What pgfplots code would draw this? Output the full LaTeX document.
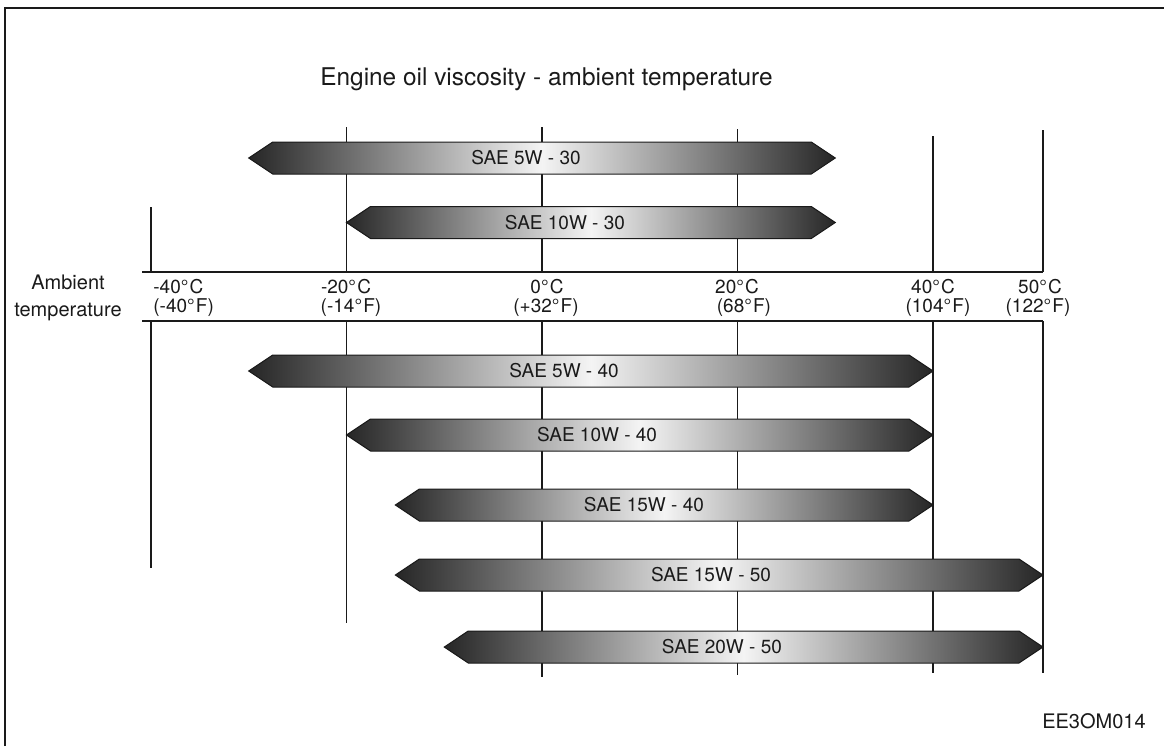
\documentclass[border=0pt]{standalone}
\usepackage{fontspec}
\setmainfont{TeX Gyre Heros}
\usepackage{pgfplots}
\pgfplotsset{compat=1.18}
\definecolor{bardark}{HTML}{262626}
\definecolor{barlight}{HTML}{F4F4F4}
\definecolor{ink}{HTML}{1A1A1A}
\begin{document}
\begin{tikzpicture}[
  lbl/.style={font=\fontsize{9.5}{10}\selectfont, text=ink, inner sep=0pt},
  guide/.style={ink, line width=0.6pt},
  bar/.style={draw=ink, line width=0.5pt, left color=bardark, right color=bardark, middle color=barlight},
]
\begin{axis}[name=ax, scale only axis, width=582pt, height=373pt,
  xmin=-55.448, xmax=61.006, ymin=0, ymax=746, y dir=reverse,
  hide axis, clip=false, no markers,
  x coord trafo/.code={\pgfmathparse{ifthenelse(#1>40,40+1.125*(#1-40),#1)}},
]
% frame (left and top edges)
\draw[ink, line width=1pt] (axis cs:-54.94,746) |- (axis cs:61.006,8);
% temperature guide lines (top part / bottom part)
\addplot[guide] coordinates {(-40,207) (-40,272)};
\addplot[guide] coordinates {(-40,321) (-40,568)};
\addplot[guide] coordinates {(-20,127) (-20,272)};
\addplot[guide] coordinates {(-20,321) (-20,623)};
\addplot[guide] coordinates {(0,127) (0,272)};
\addplot[guide] coordinates {(0,321) (0,677)};
\addplot[guide] coordinates {(20,129) (20,272)};
\addplot[guide] coordinates {(20,321) (20,675)};
\addplot[guide] coordinates {(40,136) (40,272)};
\addplot[guide] coordinates {(40,321) (40,673)};
\addplot[guide] coordinates {(50,130) (50,272)};
\addplot[guide] coordinates {(50,321) (50,673)};
\addplot[guide] coordinates {(-40.92,272) (50,272)};
\addplot[guide] coordinates {(-40.92,321) (50,321)};
% viscosity bars: tip (lo), shoulders, tip (hi)
\addplot[bar] coordinates {(-30,158) (-27.545,142) (27.545,142) (30,158) (27.545,174) (-27.545,174)} -- cycle;
\addplot[bar] coordinates {(-20,222.5) (-17.545,206.5) (27.545,206.5) (30,222.5) (27.545,238.5) (-17.545,238.5)} -- cycle;
\addplot[bar] coordinates {(-30,371) (-27.545,355) (37.545,355) (40,371) (37.545,387) (-27.545,387)} -- cycle;
\addplot[bar] coordinates {(-20,435) (-17.545,419) (37.545,419) (40,435) (37.545,451) (-17.545,451)} -- cycle;
\addplot[bar] coordinates {(-15,505) (-12.545,489) (37.545,489) (40,505) (37.545,521) (-12.545,521)} -- cycle;
\addplot[bar] coordinates {(-15,575) (-12.545,559) (47.818,559) (50,575) (47.818,591) (-12.545,591)} -- cycle;
\addplot[bar] coordinates {(-10,647) (-7.545,631) (47.818,631) (50,647) (47.818,663) (-7.545,663)} -- cycle;
% bar labels
\node[lbl] at (axis cs:-1.64,158) {SAE 5W - 30};
\node[lbl] at (axis cs:2.35,222.5) {SAE 10W - 30};
\node[lbl] at (axis cs:2.25,371) {SAE 5W - 40};
\node[lbl] at (axis cs:5.63,435) {SAE 10W - 40};
\node[lbl] at (axis cs:10.43,505) {SAE 15W - 40};
\node[lbl] at (axis cs:17.29,575) {SAE 15W - 50};
\node[lbl] at (axis cs:18.41,647) {SAE 20W - 50};
% title and side labels
\node[lbl, font=\fontsize{12.2}{13}\selectfont, anchor=base] at (axis cs:0.46,85) {Engine oil viscosity - ambient temperature};
\node[lbl, font=\fontsize{10}{11}\selectfont, anchor=base] at (axis cs:-48.49,289) {Ambient};
\node[lbl, font=\fontsize{10}{11}\selectfont, anchor=base] at (axis cs:-48.49,316) {temperature};
\node[lbl, font=\fontsize{10}{11}\selectfont, anchor=base east] at (axis cs:59.37,728) {EE3OM014};
% temperature labels
\node[lbl, anchor=base west] at (axis cs:-39.8,293) {-40°\kern0.6pt C};
\node[lbl, anchor=base west] at (axis cs:-39.8,312) {(-40°\kern0.6pt F)};
\node[lbl, anchor=base] at (axis cs:-20.05,293) {-20°\kern0.6pt C};
\node[lbl, anchor=base] at (axis cs:-19.54,312) {(-14°\kern0.6pt F)};
\node[lbl, anchor=base] at (axis cs:0.51,293) {0°\kern0.6pt C};
\node[lbl, anchor=base] at (axis cs:0.41,312) {(+32°\kern0.6pt F)};
\node[lbl, anchor=base] at (axis cs:19.95,293) {20°\kern0.6pt C};
\node[lbl, anchor=base] at (axis cs:20.66,312) {(68°\kern0.6pt F)};
\node[lbl, anchor=base] at (axis cs:40.0,293) {40°\kern0.6pt C};
\node[lbl, anchor=base] at (axis cs:40.45,312) {(104°\kern0.6pt F)};
\node[lbl, anchor=base] at (axis cs:49.73,293) {50°\kern0.6pt C};
\node[lbl, anchor=base] at (axis cs:49.55,312) {(122°\kern0.6pt F)};
\end{axis}
\pgfresetboundingbox
\path[use as bounding box] (ax.south west) rectangle (ax.north east);
\end{tikzpicture}
\end{document}
